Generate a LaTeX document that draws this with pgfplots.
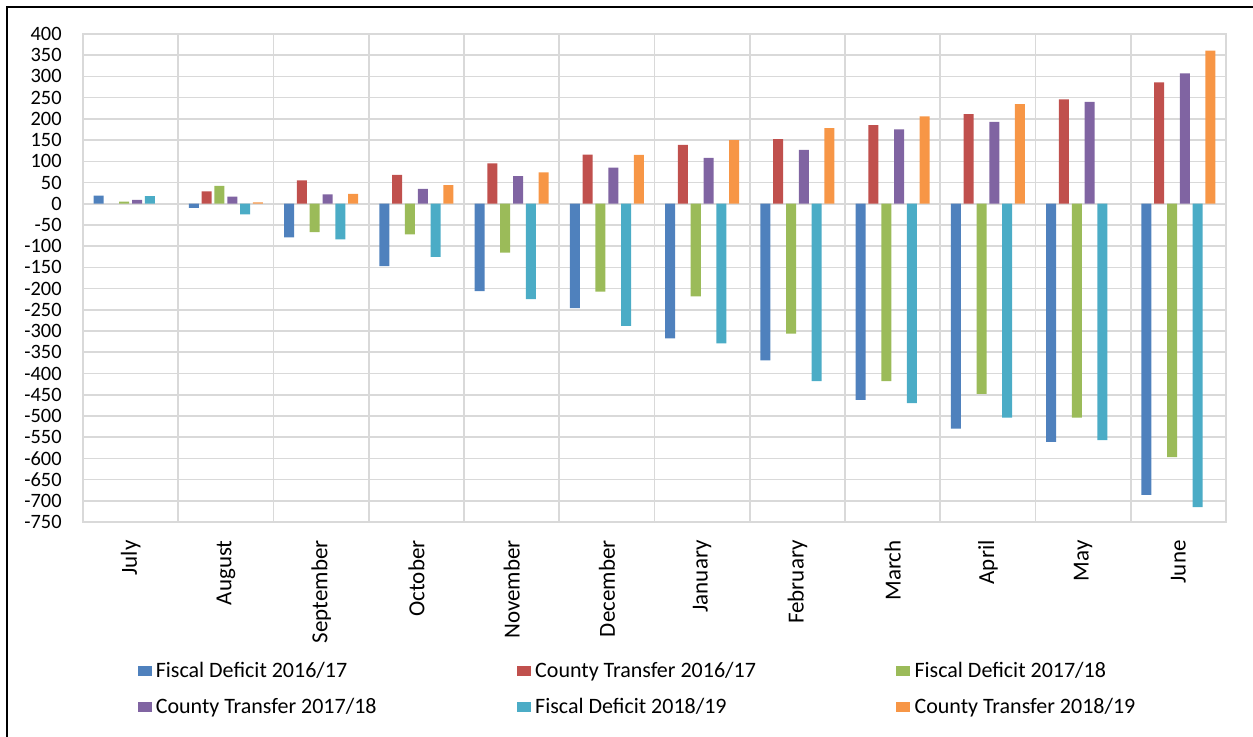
\documentclass[border=0pt]{standalone}
\usepackage{pgfplots}
\pgfplotsset{compat=1.18}
\usepackage{fontspec}
\setmainfont{Carlito}
\definecolor{c1}{HTML}{4F81BD}
\definecolor{c2}{HTML}{C0504D}
\definecolor{c3}{HTML}{9BBB59}
\definecolor{c4}{HTML}{8064A2}
\definecolor{c5}{HTML}{4BACC6}
\definecolor{c6}{HTML}{F79646}
\definecolor{gridc}{HTML}{D9D9D9}
\newcommand{\legtext}[1]{\makebox[181pt][l]{\hspace{1.2pt}#1}}
\begin{document}
\begin{tikzpicture}
\path[use as bounding box] (0,0) rectangle (626.5pt,368pt);
\draw[line width=1pt] (3.35pt,-5pt) rectangle (632pt,364.35pt);
\begin{axis}[
  at={(41.5pt,107pt)}, anchor=south west,
  scale only axis, width=571.5pt, height=244pt,
  xmin=-0.5, xmax=11.5, ymin=-750, ymax=400,
  ytick={-750,-700,...,400},
  xtick={0,...,11},
  xticklabels={July,August,September,October,November,December,January,February,March,April,May,June},
  minor xtick={-0.5,0.5,...,11.5},
  xminorgrids=true, ymajorgrids=true,
  grid style={draw=gridc, line width=0.8pt},
  minor grid style={draw=gridc, line width=0.8pt},
  axis line style={draw=gridc, line width=0.8pt},
  major tick length=0pt, minor tick length=0pt,
  tick style={draw=none},
  /pgf/number format/assume math mode=true,
  /pgf/number format/1000 sep={},
  yticklabel style={anchor=east, inner sep=0pt, font=\fontsize{10.2}{12}\selectfont},
  yticklabel shift=10.5pt,
  xticklabel style={rotate=90, anchor=east, inner sep=0pt, font=\fontsize{11.5}{13}\selectfont},
  xticklabel shift=9pt,
  bar width=0.105,
  legend image code/.code={\fill[#1,draw=none] (0pt,-2.5pt) rectangle (7pt,2.5pt);},
  legend columns=3,
  legend cell align=left,
  legend style={at={(0.0475,-0.283)}, anchor=north west, draw=none, fill=none,
    inner sep=0pt, row sep=7pt, nodes={inner sep=0.85pt},
    font=\fontsize{11}{13}\selectfont},
]
\addplot[ybar, fill=c1, draw=none, bar shift=-0.335] coordinates {
 (0,19) (1,-10) (2,-79) (3,-147) (4,-206) (5,-246) (6,-317) (7,-369) (8,-462) (9,-530) (10,-561) (11,-686)};
\addlegendentry{\legtext{Fiscal Deficit 2016/17}}
\addplot[ybar, fill=c2, draw=none, bar shift=-0.201] coordinates {
 (1,29) (2,55) (3,68) (4,95) (5,116) (6,139) (7,152) (8,185) (9,211) (10,246) (11,286)};
\addlegendentry{\legtext{County Transfer 2016/17}}
\addplot[ybar, fill=c3, draw=none, bar shift=-0.067] coordinates {
 (0,5) (1,42) (2,-67) (3,-72) (4,-115) (5,-207) (6,-218) (7,-306) (8,-418) (9,-448) (10,-504) (11,-597)};
\addlegendentry{\legtext{Fiscal Deficit 2017/18}}
\addplot[ybar, fill=c4, draw=none, bar shift=0.067] coordinates {
 (0,9) (1,17) (2,22) (3,35) (4,65) (5,85) (6,108) (7,127) (8,175) (9,193) (10,240) (11,307)};
\addlegendentry{\legtext{County Transfer 2017/18}}
\addplot[ybar, fill=c5, draw=none, bar shift=0.201] coordinates {
 (0,18) (1,-25) (2,-84) (3,-125) (4,-225) (5,-288) (6,-329) (7,-418) (8,-470) (9,-504) (10,-557) (11,-715)};
\addlegendentry{\legtext{Fiscal Deficit 2018/19}}
\addplot[ybar, fill=c6, draw=none, bar shift=0.335] coordinates {
 (1,3) (2,23) (3,44) (4,74) (5,115) (6,150) (7,178) (8,206) (9,235) (11,361)};
\addlegendentry{\legtext{County Transfer 2018/19}}
\end{axis}
\end{tikzpicture}
\end{document}
